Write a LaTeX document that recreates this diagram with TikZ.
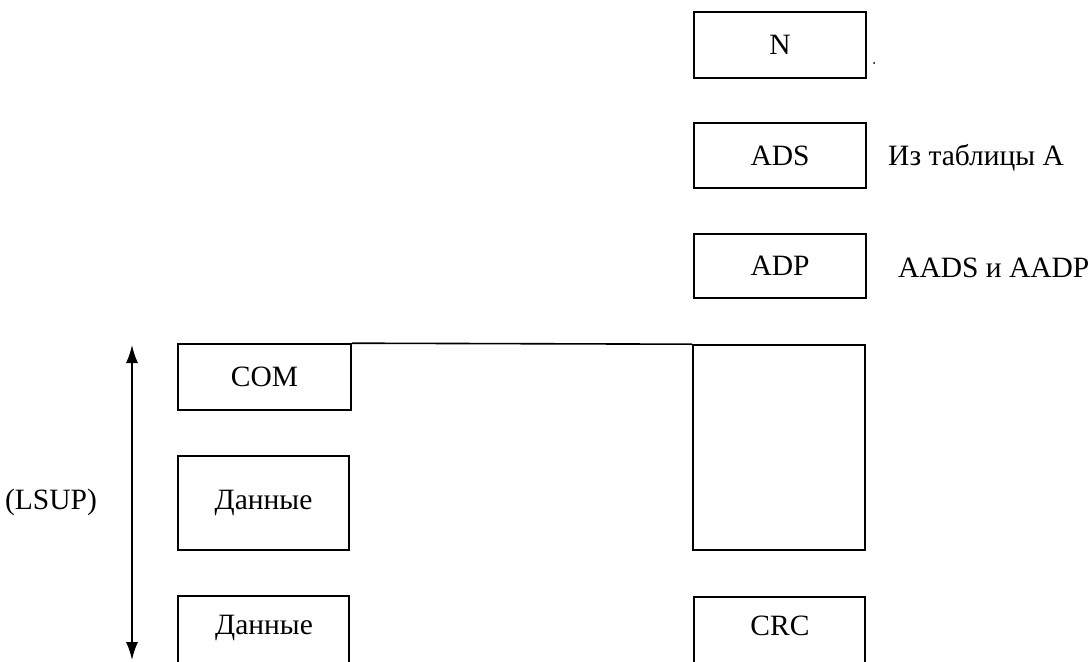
\documentclass[tikz,border=0pt]{standalone}
\usepackage{fontspec}
\setmainfont{Liberation Serif}
\usetikzlibrary{arrows.meta}
\begin{document}
\begin{tikzpicture}[x=1pt,y=-1pt,
  every node/.style={font=\fontsize{29.5}{34}\selectfont},
  box/.style={draw, line width=1.6pt, inner sep=0pt},
  lbl/.style={inner sep=0pt},
  edge/.style={line width=1.6pt}]
\useasboundingbox (0,0) rectangle (1089,661);
\clip (0,0) rectangle (1089,661);
% right column
\node[box, minimum width=172pt, minimum height=66pt] (N) at (780,45) {N};
\node[box, minimum width=172pt, minimum height=65pt] (ADS) at (780,155.5) {ADS};
\node[box, minimum width=172pt, minimum height=64pt] (ADP) at (780,266) {ADP};
\node[box, minimum width=172pt, minimum height=205pt] (big) at (779,447.5) {};
\draw[edge] (694,690) |- (865,597) -- (865,690);
\node[lbl] (CRC) at (780,626) {CRC};
% side labels
\node[lbl, anchor=west] (tabA) at (888,158) {Из таблицы A};
\node[lbl, anchor=west] (aads) at (898,268) {AADS и AADP};
% left column
\node[box, minimum width=173pt, minimum height=66pt] (COM) at (264.5,377) {COM};
\node[box, minimum width=171pt, minimum height=94pt] (D1) at (263.5,503) {Данные};
\draw[edge] (178,690) |- (349,596) -- (349,690);
\node[lbl] (D2) at (264,628) {Данные};
% connecting top line
\draw[edge] (COM.north east) -- (big.north west);
% LSUP arrow
\coordinate (atop) at (132,345);
\coordinate (abot) at (132,660);
\draw[edge, {Latex[length=18pt,width=12pt]}-{Latex[length=18pt,width=12pt]}] (atop) -- (abot);
\node[lbl] (lsup) at (51,502) {(LSUP)};
% speck
\fill (874,63) circle (1pt);
\end{tikzpicture}
\end{document}
